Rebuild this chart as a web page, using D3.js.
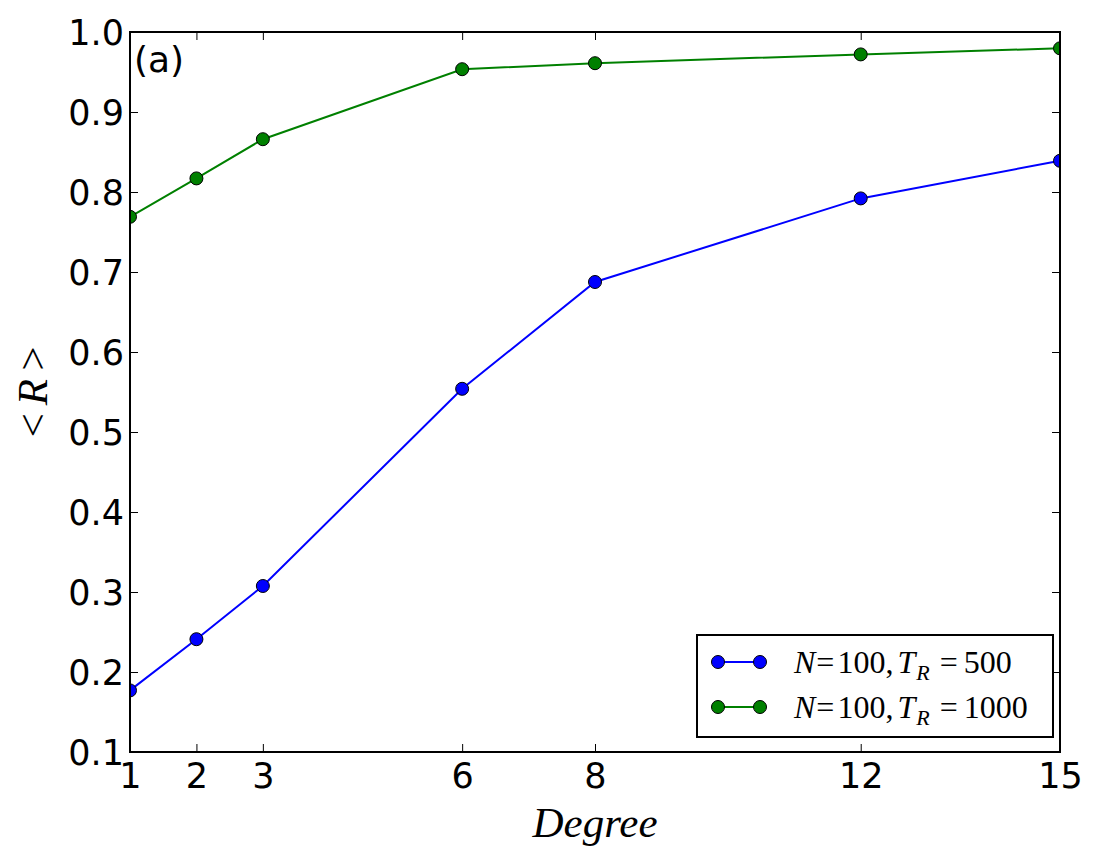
<!DOCTYPE html>
<html><head><meta charset="utf-8">
<script src="https://cdn.jsdelivr.net/npm/d3@7"></script>
<style>body{margin:0;background:#fff}svg{display:block}</style>
</head><body>
<script>
const degrees = [1, 2, 3, 6, 8, 12, 15];
const seriesT500 = [0.177, 0.241, 0.3075, 0.554, 0.6875, 0.792, 0.839];
const seriesT1000 = [0.769, 0.817, 0.866, 0.9535, 0.961, 0.972, 0.9796];
const seriesNames = ["500", "1000"];
const seriesColors = ["#0000ff", "#008000"];
const yTicks = [0.1, 0.2, 0.3, 0.4, 0.5, 0.6, 0.7, 0.8, 0.9, 1.0];
const xTicks = [1, 2, 3, 6, 8, 12, 15];

const W = 1094, H = 865;
const L = 130, R = 1060, T = 32, B = 752;
const svg = d3.select("body").append("svg").attr("width", W).attr("height", H);

const x = d3.scaleLinear().domain([1, 15]).range([L, R]);
const y = d3.scaleLinear().domain([0.1, 1.0]).range([B, T]);

const tickFont = "'DejaVu Sans', sans-serif";
const serif = "'Liberation Serif', 'DejaVu Serif', serif";

const gB = svg.append("g").attr("transform", `translate(0,${B})`)
  .call(d3.axisBottom(x).tickValues(xTicks).tickFormat(d3.format("d")).tickSizeInner(-8).tickSizeOuter(0).tickPadding(14));
const gT = svg.append("g").attr("transform", `translate(0,${T})`)
  .call(d3.axisTop(x).tickValues(xTicks).tickFormat("").tickSizeInner(-8).tickSizeOuter(0));
const gL = svg.append("g").attr("transform", `translate(${L},0)`)
  .call(d3.axisLeft(y).tickValues(yTicks).tickFormat(d3.format(".1f")).tickSizeInner(-8).tickSizeOuter(0).tickPadding(14));
const gR = svg.append("g").attr("transform", `translate(${R},0)`)
  .call(d3.axisRight(y).tickValues(yTicks).tickFormat("").tickSizeInner(-8).tickSizeOuter(0));
[gB, gT, gL, gR].forEach(g => {
  g.select(".domain").remove();
  g.selectAll(".tick line").attr("stroke", "#000").attr("stroke-width", 1);
  g.selectAll("text").attr("font-family", tickFont).attr("font-size", 35).attr("fill", "#000");
});
gB.selectAll("text").attr("dy", "0.71em").attr("y", 11);
gL.selectAll("text").attr("x", -6).attr("dy", "0.36em");

// series
const allSeries = [seriesT500, seriesT1000];
const line = d3.line().x((d, i) => x(degrees[i])).y(d => y(d));
allSeries.forEach((s, k) => {
  const g = svg.append("g");
  g.append("path").datum(s).attr("d", line).attr("fill", "none")
    .attr("stroke", seriesColors[k]).attr("stroke-width", 2);
  g.selectAll("circle").data(s).join("circle")
    .attr("cx", (d, i) => x(degrees[i])).attr("cy", d => y(d)).attr("r", 6.5)
    .attr("fill", seriesColors[k]).attr("stroke", "#000").attr("stroke-width", 1);
});
// clip markers at the axes edges (as matplotlib does)
svg.append("rect").attr("x", R + 1).attr("y", 0).attr("width", W - R - 1).attr("height", B - 20).attr("fill", "#fff");
svg.append("rect").attr("x", L - 20).attr("y", T - 1).attr("width", 19).attr("height", B - T - 40).attr("fill", "#fff");
svg.append("rect").attr("x", L - 20).attr("y", 660).attr("width", 19).attr("height", 30).attr("fill", "#fff");
svg.append("rect").attr("x", L).attr("y", T).attr("width", R - L).attr("height", B - T)
  .attr("fill", "none").attr("stroke", "#000").attr("stroke-width", 2);
gL.raise();

// (a)
svg.append("text").attr("x", 134).attr("y", 72).attr("font-family", tickFont)
  .attr("font-size", 36).text("(a)");

// axis labels
svg.append("text").attr("x", (L + R) / 2).attr("y", 837).attr("text-anchor", "middle")
  .attr("font-family", serif).attr("font-style", "italic").attr("font-size", 43).text("Degree");

const yl = svg.append("text").attr("transform", `translate(47,${(T + B) / 2}) rotate(-90)`)
  .attr("text-anchor", "middle").attr("font-family", serif).attr("font-size", 43);
yl.append("tspan").text("<");
yl.append("tspan").attr("dx", 8).attr("font-style", "italic").text("R");
yl.append("tspan").attr("dx", 8).text(">");

// legend
const lg = svg.append("g");
lg.append("rect").attr("x", 697).attr("y", 635).attr("width", 356).attr("height", 102)
  .attr("fill", "#fff").attr("stroke", "#000").attr("stroke-width", 2);
seriesNames.forEach((name, k) => {
  const ly = 662 + k * 45;
  lg.append("line").attr("x1", 718).attr("x2", 760).attr("y1", ly).attr("y2", ly)
    .attr("stroke", seriesColors[k]).attr("stroke-width", 2);
  [718, 760].forEach(cx => lg.append("circle").attr("cx", cx).attr("cy", ly).attr("r", 6.5)
    .attr("fill", seriesColors[k]).attr("stroke", "#000").attr("stroke-width", 1));
  const t = lg.append("text").attr("x", 794).attr("y", ly + 11).attr("font-family", serif).attr("font-size", 32);
  t.append("tspan").attr("font-style", "italic").text("N");
  t.append("tspan").attr("dx", 1).text("=");
  t.append("tspan").attr("dx", 3).text("100,");
  t.append("tspan").attr("dx", 4).attr("font-style", "italic").text("T");
  t.append("tspan").attr("dx", 1).attr("dy", 7).attr("font-size", 22).attr("font-style", "italic").text("R");
  t.append("tspan").attr("dx", 10).attr("dy", -7).text("=");
  t.append("tspan").attr("dx", 6).text(name);
});
</script>
</body></html>
